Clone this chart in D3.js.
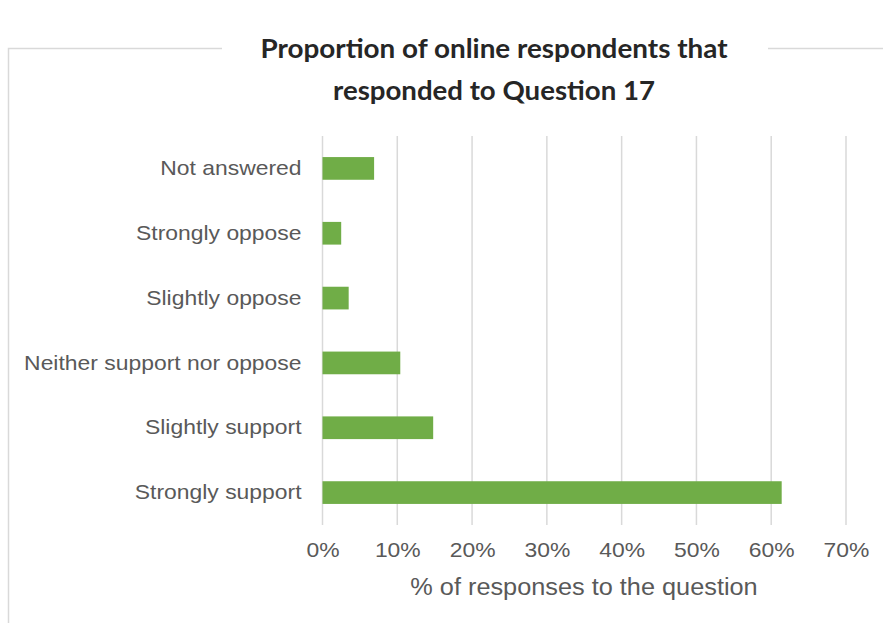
<!DOCTYPE html>
<html>
<head>
<meta charset="utf-8">
<script src="https://cdn.jsdelivr.net/npm/d3@7"></script>
<style>
  body { margin: 0; background: #fff; }
  svg { display: block; }
</style>
</head>
<body>
<svg class="bar-chart"></svg>
<script>
// chart data
const categories = [
  "Not answered",
  "Strongly oppose",
  "Slightly oppose",
  "Neither support nor oppose",
  "Slightly support",
  "Strongly support"
];
const percentValues = [6.9, 2.5, 3.5, 10.4, 14.8, 61.4];
const tickValues = [0, 10, 20, 30, 40, 50, 60, 70];
const titleLines = ["Proportion of online respondents that", "responded to Question 17"];
const xLabel = "% of responses to the question";

const width = 883, height = 623;
const margin = { top: 136, right: 37, bottom: 98, left: 322.5 };
const stretch = 1.09; // the picture's text is a little wide

const svg = d3.select("svg.bar-chart")
  .attr("width", width)
  .attr("height", height);

// widen text horizontally, keeping its anchor
function widen(sel, factor) {
  sel.each(function() {
    const len = this.getComputedTextLength();
    d3.select(this)
      .attr("textLength", len * factor)
      .attr("lengthAdjust", "spacingAndGlyphs");
  });
}

// chart frame: left edge and top edge broken by the title
svg.append("path")
  .attr("d", "M8.5,623 V48.5 H222 M768,48.5 H883")
  .attr("fill", "none")
  .attr("stroke", "#d9d9d9")
  .attr("stroke-width", 1.5);

const xScale = d3.scaleLinear()
  .domain([0, 70])
  .range([margin.left, width - margin.right]);

const yScale = d3.scaleBand()
  .domain(categories)
  .range([margin.top, height - margin.bottom])
  .paddingInner(0.65)
  .paddingOuter(0.325);

// gridlines
svg.append("g")
  .selectAll("line")
  .data(tickValues)
  .enter()
  .append("line")
  .attr("x1", d => xScale(d))
  .attr("x2", d => xScale(d))
  .attr("y1", margin.top)
  .attr("y2", height - margin.bottom)
  .attr("stroke", "#d9d9d9")
  .attr("stroke-width", 1.5);

// bars
svg.append("g")
  .selectAll(".bar")
  .data(categories.map((c, i) => ({ cat: c, value: percentValues[i] })))
  .enter()
  .append("rect")
  .attr("class", "bar")
  .attr("x", xScale(0))
  .attr("y", d => yScale(d.cat))
  .attr("width", d => xScale(d.value) - xScale(0))
  .attr("height", yScale.bandwidth())
  .attr("fill", "#70ad47");

// x axis labels
const xAxis = svg.append("g")
  .attr("transform", `translate(0, ${height - margin.bottom})`)
  .call(d3.axisBottom(xScale).tickValues(tickValues).tickSize(0).tickPadding(17).tickFormat(d => d + "%"));
xAxis.select(".domain").remove();
xAxis.selectAll("text")
  .attr("font-family", "'Liberation Sans', Arial, sans-serif")
  .attr("font-size", 21)
  .attr("fill", "#595959")
  .call(widen, stretch);

// y axis labels
const yAxis = svg.append("g")
  .attr("transform", `translate(${margin.left}, 0)`)
  .call(d3.axisLeft(yScale).tickSize(0).tickPadding(21));
yAxis.select(".domain").remove();
yAxis.selectAll("text")
  .attr("font-family", "'Liberation Sans', Arial, sans-serif")
  .attr("font-size", 21)
  .attr("fill", "#595959")
  .call(widen, stretch);

// x axis title
svg.append("text")
  .attr("x", 584)
  .attr("y", 595)
  .attr("text-anchor", "middle")
  .attr("font-family", "'Liberation Sans', Arial, sans-serif")
  .attr("font-size", 23)
  .attr("fill", "#595959")
  .text(xLabel)
  .call(widen, 1.1);

// chart title
const titleWidths = [467, 322];
svg.append("text")
  .attr("text-anchor", "middle")
  .attr("font-family", "Lato, 'Open Sans', sans-serif")
  .attr("font-weight", "bold")
  .attr("font-size", 27)
  .attr("fill", "#262626")
  .selectAll("tspan")
  .data(titleLines)
  .enter()
  .append("tspan")
  .attr("x", 494)
  .attr("y", (d, i) => 58 + i * 42)
  .attr("textLength", (d, i) => titleWidths[i])
  .attr("lengthAdjust", "spacingAndGlyphs")
  .text(d => d);
</script>
</body>
</html>
